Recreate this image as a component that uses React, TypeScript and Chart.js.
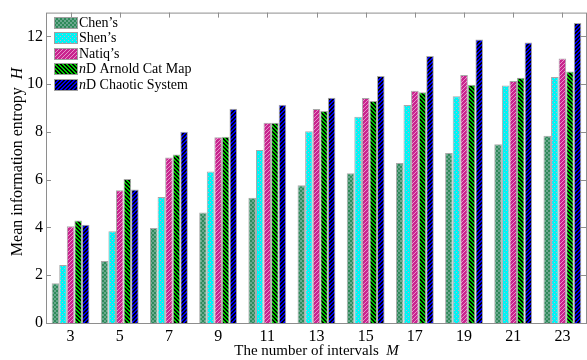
import React, { useEffect, useRef } from "react";
import { Chart, registerables } from "chart.js";

Chart.register(...registerables);

const categories = ["3", "5", "7", "9", "11", "13", "15", "17", "19", "21", "23"];
const chenValues = [1.67, 2.6, 3.98, 4.63, 5.25, 5.77, 6.27, 6.7, 7.12, 7.49, 7.84];
const shenValues = [2.43, 3.84, 5.28, 6.35, 7.25, 8.03, 8.64, 9.13, 9.5, 9.95, 10.3];
const natiqValues = [4.05, 5.56, 6.93, 7.78, 8.39, 8.96, 9.42, 9.73, 10.39, 10.14, 11.08];
const arnoldValues = [4.29, 6.03, 7.06, 7.8, 8.39, 8.88, 9.3, 9.66, 9.98, 10.27, 10.53];
const chaoticValues = [4.12, 5.59, 8.01, 8.97, 9.14, 9.43, 10.34, 11.18, 11.87, 11.75, 12.56];
const seriesNames = ["Chen’s", "Shen’s", "Natiq’s", "nD Arnold Cat Map", "nD Chaotic System"];
const yTicks = [0, 2, 4, 6, 8, 10, 12];
const xTitle = "The number of intervals";
const xTitleVar = "M";
const yTitle = "Mean information entropy";
const yTitleVar = "H";

const SERIF = '"Liberation Serif", "Times New Roman", serif';

function makePattern(kind: string): CanvasPattern | string {
  const c = document.createElement("canvas");
  c.width = 4;
  c.height = 4;
  const g = c.getContext("2d")!;
  const px = (x: number, y: number, col: string) => {
    g.fillStyle = col;
    g.fillRect(x, y, 1, 1);
  };
  if (kind === "chen") {
    g.fillStyle = "#2f8a5a";
    g.fillRect(0, 0, 4, 4);
    g.fillStyle = "#6aa88e";
    g.fillRect(0, 0, 2, 2);
    g.fillRect(2, 2, 2, 2);
  } else if (kind === "shen") {
    g.fillStyle = "#00f4f4";
    g.fillRect(0, 0, 4, 4);
    px(0, 0, "#c4a8c8");
    px(2, 2, "#c4a8c8");
  } else if (kind === "natiq") {
    g.fillStyle = "#c8248e";
    g.fillRect(0, 0, 4, 4);
    for (let i = 0; i < 4; i++) px(3 - i, i, "#e890c8");
  } else if (kind === "arnold") {
    g.fillStyle = "#00cc00";
    g.fillRect(0, 0, 4, 4);
    for (let i = 0; i < 4; i++) {
      px(i, i, "#000000");
      px((i + 1) % 4, i, "#000000");
    }
  } else {
    g.fillStyle = "#0000f4";
    g.fillRect(0, 0, 4, 4);
    for (let i = 0; i < 4; i++) {
      px(3 - i, i, "#000000");
      px((4 - i) % 4, i, "#000000");
    }
  }
  return g.createPattern(c, "repeat") || "#888";
}

export default function App() {
  const ref = useRef<HTMLCanvasElement | null>(null);

  useEffect(() => {
    document.body.style.margin = "0";
    const canvas = ref.current!;
    const kinds = ["chen", "shen", "natiq", "arnold", "chaotic"];
    const patterns = kinds.map((k) => makePattern(k));
    const values = [chenValues, shenValues, natiqValues, arnoldValues, chaoticValues];

    const framePlugin = {
      id: "frame",
      beforeDatasetsDraw(chart: any) {
        const { ctx, chartArea } = chart;
        const { left, right, top, bottom } = chartArea;
        ctx.save();
        ctx.strokeStyle = "#8e8e8e";
        ctx.lineWidth = 1;
        ctx.strokeRect(left + 0.5, top + 0.5, right - left - 1, bottom - top);
        const ys = chart.scales.y;
        const xs = chart.scales.x;
        ctx.beginPath();
        yTicks.forEach((v) => {
          const y = Math.round(ys.getPixelForValue(v)) + 0.5;
          ctx.moveTo(left, y);
          ctx.lineTo(left + 5, y);
          ctx.moveTo(right - 1, y);
          ctx.lineTo(right - 6, y);
        });
        categories.forEach((_, i) => {
          const x = Math.round(xs.getPixelForValue(i)) + 0.5;
          ctx.moveTo(x, top);
          ctx.lineTo(x, top + 5);
          ctx.moveTo(x, bottom);
          ctx.lineTo(x, bottom - 5);
        });
        ctx.stroke();
        ctx.restore();
      },
    };

    const textPlugin = {
      id: "texts",
      afterDraw(chart: any) {
        const { ctx, chartArea } = chart;
        ctx.save();
        ctx.fillStyle = "#000";
        // x title
        ctx.font = `15px ${SERIF}`;
        const xMain = xTitle + "  ";
        const w1 = ctx.measureText(xMain).width;
        ctx.font = `italic 15px ${SERIF}`;
        const w2 = ctx.measureText(xTitleVar).width;
        const cx = (chartArea.left + chartArea.right) / 2;
        const sx = cx - (w1 + w2) / 2;
        ctx.textBaseline = "alphabetic";
        ctx.textAlign = "left";
        ctx.font = `15px ${SERIF}`;
        ctx.fillText(xMain, sx, 355);
        ctx.font = `italic 15px ${SERIF}`;
        ctx.fillText(xTitleVar, sx + w1, 355);

        // y title
        ctx.save();
        ctx.translate(21.5, 162);
        ctx.rotate(-Math.PI / 2);
        ctx.font = `16px ${SERIF}`;
        const yMain = yTitle + "  ";
        const h1 = ctx.measureText(yMain).width;
        ctx.font = `italic 16px ${SERIF}`;
        const h2 = ctx.measureText(yTitleVar).width;
        const sy = -(h1 + h2) / 2;
        ctx.font = `16px ${SERIF}`;
        ctx.fillText(yMain, sy, 0);
        ctx.font = `italic 16px ${SERIF}`;
        ctx.fillText(yTitleVar, sy + h1, 0);
        ctx.restore();

        // legend
        const rows = [22.5, 38, 53.5, 69, 84.5];
        seriesNames.forEach((name, i) => {
          const cy = rows[i];
          ctx.fillStyle = patterns[i] as any;
          ctx.fillRect(54, Math.round(cy - 6), 24, 12);
          ctx.strokeStyle = "#a0a0a0";
          ctx.lineWidth = 1;
          ctx.strokeRect(54.5, Math.round(cy - 6) + 0.5, 23, 11);
          ctx.fillStyle = "#000";
          ctx.textBaseline = "middle";
          let tx = 79;
          if (name.startsWith("nD")) {
            ctx.font = `italic 14px ${SERIF}`;
            ctx.fillText("n", tx, cy + 0.5);
            tx += ctx.measureText("n").width;
            ctx.font = `14px ${SERIF}`;
            ctx.fillText(name.slice(1), tx, cy + 0.5);
          } else {
            ctx.font = `14px ${SERIF}`;
            ctx.fillText(name, tx, cy + 0.5);
          }
        });
        ctx.restore();
      },
    };

    const chart = new Chart(canvas, {
      type: "bar",
      data: {
        labels: categories,
        datasets: values.map((v, i) => ({
          label: seriesNames[i],
          data: v,
          backgroundColor: patterns[i] as any,
          borderColor: "#a8a8a8",
          borderWidth: 1,
          categoryPercentage: 0.77,
          barPercentage: 1.0,
        })),
      },
      options: {
        responsive: false,
        animation: false,
        devicePixelRatio: 1,
        layout: { padding: { top: 10, right: 0, left: 0, bottom: 0 } },
        plugins: {
          legend: { display: false },
          tooltip: { enabled: false },
        },
        scales: {
          x: {
            grid: { display: false, drawTicks: false },
            border: { display: false },
            ticks: {
              color: "#000",
              padding: 4,
              font: { family: SERIF, size: 16 },
              maxRotation: 0,
            },
            afterFit(scale: any) {
              scale.height = 37;
            },
          },
          y: {
            min: 0,
            max: 13,
            grid: { display: false, drawTicks: false },
            border: { display: false },
            afterBuildTicks(scale: any) {
              scale.ticks = yTicks.map((v) => ({ value: v }));
            },
            ticks: {
              color: "#000",
              padding: 3,
              font: { family: SERIF, size: 16 },
            },
            afterFit(scale: any) {
              scale.width = 46;
            },
          },
        },
      },
      plugins: [framePlugin, textPlugin],
    });
    return () => chart.destroy();
  }, []);

  return (
    <div style={{ width: 587, height: 360 }}>
      <canvas ref={ref} width={587} height={360} />
    </div>
  );
}
